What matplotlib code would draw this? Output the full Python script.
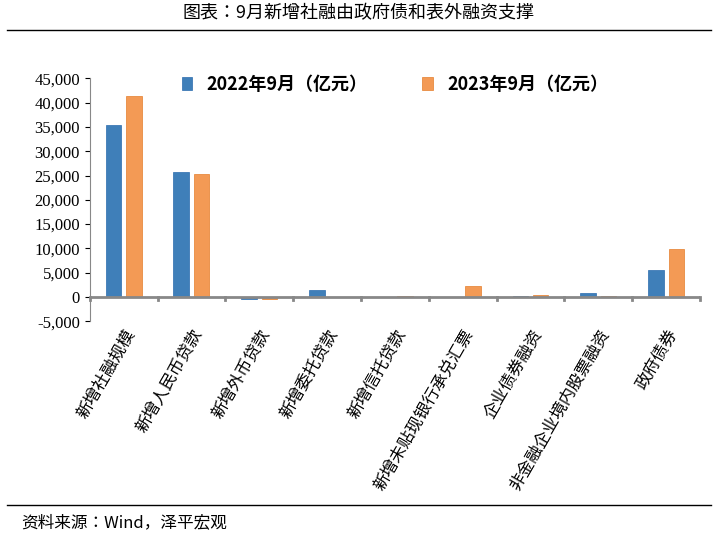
import matplotlib
matplotlib.use("Agg")
import matplotlib.pyplot as plt
import numpy as np

CJK = ["Noto Sans CJK JP", "Noto Sans CJK SC", "Noto Sans CJK TC", "Noto Sans CJK KR", "DejaVu Sans"]
plt.rcParams["font.family"] = CJK

categories = ["新增社融规模", "新增人民币贷款", "新增外币贷款", "新增委托贷款", "新增信托贷款",
              "新增未贴现银行承兑汇票", "企业债券融资", "非金融企业境内股票融资", "政府债券"]
s2022 = [35400, 25700, -500, 1400, -50, -100, 300, 900, 5500]
s2023 = [41300, 25400, -500, -100, 200, 2200, 500, 300, 9900]
labels = ["2022年9月（亿元）", "2023年9月（亿元）"]
yticks = list(range(-5000, 45001, 5000))

fig = plt.figure(figsize=(7.18, 5.40), dpi=100)
ax = fig.add_axes([0.125, 0.405, 0.85, 0.45])
x = np.arange(len(categories))
w = 0.23
ax.bar(x - 0.15, s2022, w, color="#3F7FB9", edgecolor="#2A6BAE", linewidth=0.5, label=labels[0])
ax.bar(x + 0.15, s2023, w, color="#F39A55", edgecolor="#E57E2B", linewidth=0.5, label=labels[1])
ax.set_ylim(-5000, 45000)
ax.set_xlim(-0.5, len(categories) - 0.5)
ax.set_yticks(yticks)
ax.set_yticklabels([f"{v:,}" for v in yticks], fontfamily="Liberation Serif", fontsize=12)
ax.set_xticks(x)
ax.set_xticklabels(categories, rotation=60, ha="right", rotation_mode="anchor", fontsize=12)
ax.tick_params(axis="x", length=0)
for s in ["top", "right", "bottom"]:
    ax.spines[s].set_visible(False)
ax.spines["left"].set_color("#888888")
ax.axhline(0, color="#888888", lw=2)
for b in np.arange(-0.5, len(categories), 1.0):
    ax.plot([b, b], [0, -700], color="#888888", lw=2, clip_on=False)
ax.legend(loc="upper center", bbox_to_anchor=(0.5, 1.08), ncol=2, frameon=False,
          prop={"family": CJK, "weight": "bold", "size": 13}, handlelength=0.6, columnspacing=3)

fig.text(0.5, 0.975, "图表：9月新增社融由政府债和表外融资支撑", ha="center", va="center", fontsize=13)
fig.add_artist(plt.Line2D([0.01, 0.99], [0.945, 0.945], color="black", lw=1))
fig.add_artist(plt.Line2D([0.01, 0.99], [0.065, 0.065], color="black", lw=1))
fig.text(0.03, 0.033, "资料来源：Wind，泽平宏观", ha="left", va="center", fontsize=12, style="italic")
fig.savefig("out.png", dpi=100)
